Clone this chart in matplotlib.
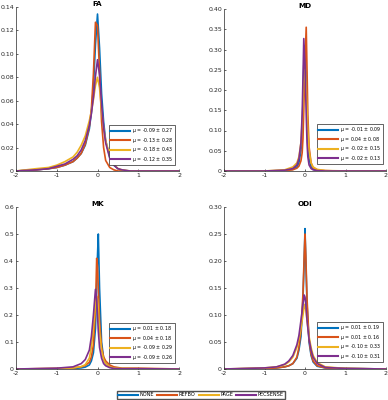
import matplotlib
matplotlib.use('Agg')
import matplotlib.pyplot as plt

W, H = 388, 400

methods = ['NONE', 'REFBO', 'PAGE', 'PECSENSE']
colors = ['#0072BD', '#D95319', '#EDB120', '#7E2F8E']

# FA
fa_x = [-2, -1.5, -1.2, -1.0, -0.8, -0.6, -0.5, -0.4, -0.3, -0.2, -0.15, -0.1, -0.05, 0, 0.05, 0.1, 0.15, 0.2, 0.3, 0.4, 0.5, 0.6, 0.8, 2]
fa_none = [0, 0.001, 0.002, 0.003, 0.005, 0.008, 0.011, 0.015, 0.022, 0.036, 0.05, 0.072, 0.108, 0.134, 0.105, 0.066, 0.042, 0.026, 0.012, 0.005, 0.002, 0.0005, 0, 0]
fa_refbo = [0, 0.001, 0.002, 0.003, 0.005, 0.008, 0.011, 0.015, 0.023, 0.038, 0.053, 0.083, 0.127, 0.124, 0.085, 0.042, 0.02, 0.009, 0.003, 0.001, 0, 0, 0, 0]
fa_page = [0, 0.002, 0.003, 0.005, 0.008, 0.012, 0.016, 0.022, 0.03, 0.043, 0.051, 0.061, 0.073, 0.08, 0.071, 0.052, 0.037, 0.026, 0.013, 0.006, 0.002, 0.001, 0, 0]
fa_pecsense = [0, 0.001, 0.002, 0.004, 0.006, 0.01, 0.013, 0.018, 0.026, 0.039, 0.049, 0.063, 0.081, 0.095, 0.082, 0.057, 0.037, 0.024, 0.011, 0.005, 0.002, 0.001, 0, 0]
fa_stats = ['-0.09 ± 0.27', '-0.13 ± 0.28', '-0.18 ± 0.43', '-0.12 ± 0.35']

# MD
md_x = [-2, -1, -0.5, -0.3, -0.2, -0.15, -0.1, -0.07, -0.05, -0.03, 0, 0.03, 0.05, 0.07, 0.1, 0.15, 0.2, 0.3, 0.5, 0.8, 1, 2]
md_none = [0, 0, 0.001, 0.004, 0.01, 0.02, 0.05, 0.1, 0.17, 0.26, 0.31, 0.22, 0.13, 0.07, 0.03, 0.01, 0.004, 0.001, 0, 0, 0, 0]
md_refbo = [0, 0, 0.001, 0.003, 0.007, 0.012, 0.025, 0.045, 0.08, 0.15, 0.27, 0.355, 0.25, 0.14, 0.06, 0.02, 0.008, 0.003, 0.001, 0, 0, 0]
md_page = [0, 0, 0.003, 0.01, 0.02, 0.035, 0.07, 0.12, 0.17, 0.22, 0.25, 0.2, 0.15, 0.1, 0.05, 0.02, 0.01, 0.004, 0.001, 0.0005, 0, 0]
md_pecsense = [0, 0, 0.002, 0.006, 0.015, 0.03, 0.07, 0.14, 0.23, 0.327, 0.26, 0.14, 0.07, 0.035, 0.015, 0.006, 0.003, 0.001, 0, 0, 0, 0]
md_stats = ['-0.01 ± 0.09', '0.04 ± 0.08', '-0.02 ± 0.15', '-0.02 ± 0.13']

# MK
mk_x = [-2, -1, -0.6, -0.4, -0.3, -0.2, -0.15, -0.1, -0.05, -0.02, 0, 0.02, 0.05, 0.1, 0.15, 0.2, 0.3, 0.4, 0.6, 1.0, 2]
mk_none = [0, 0.001, 0.002, 0.004, 0.007, 0.015, 0.03, 0.06, 0.15, 0.3, 0.42, 0.5, 0.3, 0.1, 0.04, 0.02, 0.008, 0.004, 0.001, 0.001, 0]
mk_refbo = [0, 0.002, 0.004, 0.008, 0.013, 0.025, 0.045, 0.09, 0.22, 0.41, 0.38, 0.3, 0.18, 0.08, 0.045, 0.03, 0.015, 0.008, 0.003, 0.003, 0]
mk_page = [0, 0.002, 0.004, 0.009, 0.016, 0.04, 0.08, 0.15, 0.24, 0.27, 0.26, 0.22, 0.14, 0.07, 0.035, 0.02, 0.008, 0.004, 0.002, 0.001, 0]
mk_pecsense = [0, 0.003, 0.008, 0.02, 0.035, 0.07, 0.12, 0.2, 0.295, 0.26, 0.2, 0.14, 0.08, 0.04, 0.02, 0.012, 0.005, 0.002, 0.001, 0.001, 0]
mk_stats = ['0.01 ± 0.18', '0.04 ± 0.18', '-0.09 ± 0.29', '-0.09 ± 0.26']

# ODI
odi_x = [-2, -1, -0.7, -0.5, -0.4, -0.3, -0.2, -0.15, -0.1, -0.05, -0.02, 0, 0.02, 0.05, 0.1, 0.15, 0.2, 0.3, 0.5, 1.0, 2]
odi_none = [0, 0.001, 0.002, 0.004, 0.006, 0.01, 0.02, 0.035, 0.06, 0.13, 0.2, 0.26, 0.2, 0.12, 0.05, 0.025, 0.013, 0.005, 0.002, 0.001, 0]
odi_refbo = [0, 0.001, 0.002, 0.004, 0.006, 0.01, 0.022, 0.04, 0.07, 0.14, 0.21, 0.25, 0.21, 0.13, 0.055, 0.028, 0.015, 0.006, 0.002, 0.001, 0]
odi_page = [0, 0.002, 0.004, 0.008, 0.013, 0.022, 0.04, 0.055, 0.075, 0.1, 0.115, 0.12, 0.11, 0.09, 0.06, 0.04, 0.025, 0.012, 0.004, 0.001, 0]
odi_pecsense = [0, 0.002, 0.004, 0.009, 0.015, 0.025, 0.045, 0.062, 0.09, 0.12, 0.137, 0.133, 0.12, 0.09, 0.055, 0.035, 0.022, 0.01, 0.003, 0.001, 0]
odi_stats = ['0.01 ± 0.19', '0.01 ± 0.16', '-0.10 ± 0.33', '-0.10 ± 0.31']

panels = [
    ('FA', fa_x, [fa_none, fa_refbo, fa_page, fa_pecsense], fa_stats, [16, 7, 179, 171],
     [0, 0.14], [0, 0.02, 0.04, 0.06, 0.08, 0.10, 0.12, 0.14], ['0', '0.02', '0.04', '0.06', '0.08', '0.10', '0.12', '0.14'], [109, 125]),
    ('MD', md_x, [md_none, md_refbo, md_page, md_pecsense], md_stats, [224, 9, 386, 171],
     [0, 0.40], [0, 0.05, 0.10, 0.15, 0.20, 0.25, 0.30, 0.35, 0.40], ['0', '0.05', '0.10', '0.15', '0.20', '0.25', '0.30', '0.35', '0.40'], [317, 124]),
    ('MK', mk_x, [mk_none, mk_refbo, mk_page, mk_pecsense], mk_stats, [16, 207, 179, 369],
     [0, 0.6], [0, 0.1, 0.2, 0.3, 0.4, 0.5, 0.6], ['0', '0.1', '0.2', '0.3', '0.4', '0.5', '0.6'], [109, 323]),
    ('ODI', odi_x, [odi_none, odi_refbo, odi_page, odi_pecsense], odi_stats, [224, 207, 386, 369],
     [0, 0.30], [0, 0.05, 0.10, 0.15, 0.20, 0.25, 0.30], ['0', '0.05', '0.10', '0.15', '0.20', '0.25', '0.30'], [317, 322]),
]

fig = plt.figure(figsize=(W / 100, H / 100), dpi=100)
tc = '#262626'

for title, x, ys, stats, box, ylim, yt, ytl, lpos in panels:
    x0, y0, x1, y1 = box
    ax = fig.add_axes([x0 / W, 1 - y1 / H, (x1 - x0) / W, (y1 - y0) / H])
    handles = []
    for y, c, s in zip(ys, colors, stats):
        h, = ax.plot(x, y, color=c, lw=1.2, label=r'$\mu$ = ' + s)
        handles.append(h)
    ax.set_xlim(-2, 2)
    ax.set_ylim(*ylim)
    ax.set_xticks([-2, -1, 0, 1, 2])
    ax.set_xticklabels(['-2', '-1', '0', '1', '2'])
    ax.set_yticks(yt)
    ax.set_yticklabels(ytl)
    ax.set_title(title, fontsize=5.2, fontweight='bold', pad=0.3)
    for sp in ['top', 'right']:
        ax.spines[sp].set_visible(False)
    for sp in ['left', 'bottom']:
        ax.spines[sp].set_color('#262626')
        ax.spines[sp].set_linewidth(0.5)
    ax.tick_params(direction='in', length=1.5, width=0.5, labelsize=4.5, colors=tc, pad=1.5)
    lx0, ly0 = lpos
    leg = ax.legend(handles=handles, fontsize=3.4, loc='upper left',
                    bbox_to_anchor=((lx0 - x0) / (x1 - x0), 1 - (ly0 - y0) / (y1 - y0)),
                    frameon=True, fancybox=False, edgecolor='#262626', framealpha=1,
                    handlelength=4.2, handletextpad=0.3, borderpad=0.3, labelspacing=0.1,
                    borderaxespad=0)
    leg.get_frame().set_linewidth(0.5)
    for lh in leg.get_lines():
        lh.set_linewidth(1.5)

fig.legend([plt.Line2D([], [], color=c, lw=1.5) for c in colors], methods,
           loc='center', bbox_to_anchor=(201 / W, 1 - 395 / H), ncol=4,
           fontsize=3.6, frameon=True, fancybox=False, edgecolor='#262626',
           handlelength=4.0, handletextpad=0.3, columnspacing=0.6, borderpad=0.3)

fig.savefig('out.png', dpi=100)
